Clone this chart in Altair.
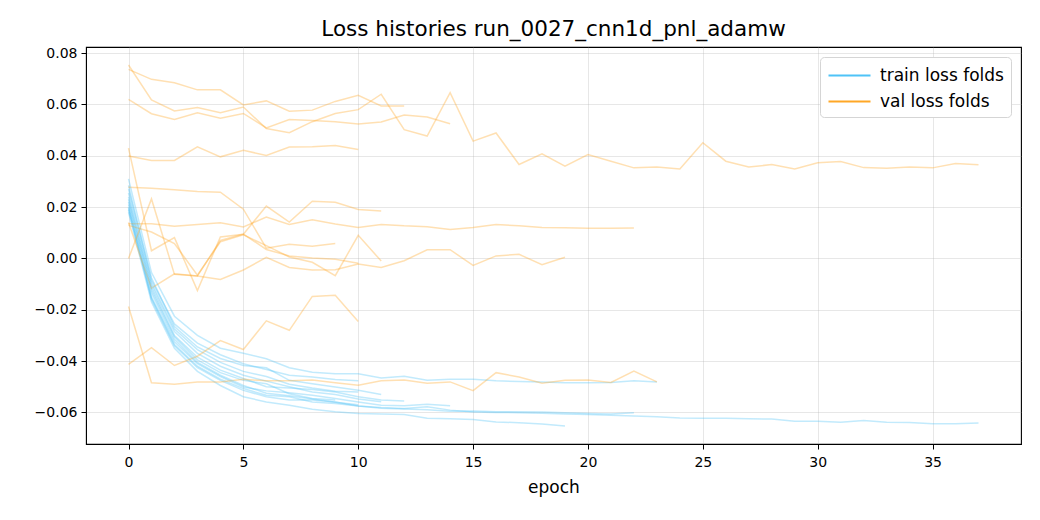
import altair as alt
import pandas as pd

# ---- data (one train / val history per fold) ----
FOLDS = ["A", "B", "C", "D", "E", "F", "G", "H", "I", "J", "K", "L"]

TRAIN_A = [0.0230, -0.0115, -0.0300, -0.0385, -0.0435, -0.0468, -0.0500, -0.0505, -0.0511, -0.0520, -0.0539, -0.0552, -0.0555]
TRAIN_B = [0.0195, -0.0155, -0.0335, -0.0420, -0.0470, -0.0507, -0.0533, -0.0539, -0.0559, -0.0565, -0.0575, -0.0581, -0.0585,
           -0.0578, -0.0591, -0.0598, -0.0600, -0.0601, -0.0603, -0.0606, -0.0608, -0.0611, -0.0614, -0.0617, -0.0622, -0.0623,
           -0.0623, -0.0625, -0.0626, -0.0634, -0.0634, -0.0638, -0.0631, -0.0638, -0.0639, -0.0644, -0.0644, -0.0641]
TRAIN_C = [0.0200, -0.0150, -0.0325, -0.0410, -0.0460, -0.0501, -0.0516, -0.0523, -0.0533, -0.0546, -0.0559, -0.0572, -0.0574, -0.0568, -0.0574]
TRAIN_D = [0.0285, -0.0085, -0.0255, -0.0330, -0.0375, -0.0410, -0.0433, -0.0455, -0.0462, -0.0472, -0.0477]
TRAIN_E = [0.0220, -0.0125, -0.0305, -0.0395, -0.0445, -0.0475, -0.0488, -0.0527, -0.0546, -0.0552]
TRAIN_F = [0.0270, -0.0075, -0.0265, -0.0345, -0.0390, -0.0417, -0.0426, -0.0475, -0.0488, -0.0501, -0.0514, -0.0530]
TRAIN_G = [0.0190, -0.0160, -0.0340, -0.0425, -0.0475, -0.0514, -0.0539, -0.0552, -0.0552, -0.0559, -0.0575, -0.0584, -0.0587,
           -0.0590, -0.0595, -0.0594, -0.0597, -0.0597, -0.0598, -0.0601, -0.0604, -0.0606, -0.0601]
TRAIN_H = [0.0180, -0.0170, -0.0350, -0.0440, -0.0495, -0.0539, -0.0559, -0.0572, -0.0588, -0.0597, -0.0604, -0.0606, -0.0608,
           -0.0623, -0.0625, -0.0628, -0.0637, -0.0640, -0.0645, -0.0653]
TRAIN_I = [0.0240, -0.0105, -0.0285, -0.0370, -0.0420, -0.0455, -0.0478, -0.0500, -0.0520, -0.0530, -0.0548, -0.0558]
TRAIN_J = [0.0255, -0.0095, -0.0275, -0.0355, -0.0405, -0.0440, -0.0460, -0.0490, -0.0505, -0.0517, -0.0520]
TRAIN_K = [0.0310, -0.0055, -0.0225, -0.0300, -0.0350, -0.0369, -0.0391, -0.0426, -0.0443, -0.0449, -0.0449, -0.0466, -0.0459,
           -0.0475, -0.0471, -0.0471, -0.0477, -0.0479, -0.0481, -0.0484, -0.0484, -0.0483, -0.0477, -0.0481]
TRAIN_L = [0.0210, -0.0135, -0.0315, -0.0405, -0.0455, -0.0495, -0.0525, -0.0535, -0.0548, -0.0560, -0.0570]

VAL_A = [0.0737, 0.0698, 0.0685, 0.0657, 0.0657, 0.0598, 0.0614, 0.0574, 0.0578, 0.0612, 0.0636, 0.0594, 0.0594]
VAL_B = [0.0754, 0.0618, 0.0575, 0.0588, 0.0568, 0.0590, 0.0506, 0.0490, 0.0533, 0.0565, 0.0580, 0.0640, 0.0502,
         0.0477, 0.0646, 0.0457, 0.0489, 0.0366, 0.0408, 0.0360, 0.0405, 0.0379, 0.0353, 0.0356, 0.0349, 0.0451,
         0.0379, 0.0356, 0.0366, 0.0349, 0.0373, 0.0378, 0.0354, 0.0352, 0.0356, 0.0353, 0.0370, 0.0365]
VAL_C = [0.0620, 0.0564, 0.0542, 0.0568, 0.0546, 0.0565, 0.0509, 0.0541, 0.0538, 0.0533, 0.0524, 0.0532, 0.0559, 0.0551, 0.0525]
VAL_D = [0.0399, 0.0382, 0.0382, 0.0435, 0.0396, 0.0422, 0.0401, 0.0434, 0.0435, 0.0440, 0.0425]
VAL_E = [0.0277, 0.0274, 0.0268, 0.0261, 0.0258, 0.0192, 0.0040, 0.0055, 0.0048, 0.0058]
VAL_F = [0.0430, 0.0030, 0.0081, -0.0125, 0.0084, 0.0094, 0.0204, 0.0142, 0.0223, 0.0219, 0.0191, 0.0185]
VAL_G = [0.0135, 0.0135, 0.0126, 0.0132, 0.0139, 0.0123, 0.0161, 0.0132, 0.0151, 0.0134, 0.0121, 0.0132, 0.0127,
         0.0124, 0.0113, 0.0121, 0.0132, 0.0127, 0.0121, 0.0120, 0.0118, 0.0118, 0.0119]
VAL_H = [0.0140, -0.0116, -0.0060, -0.0068, -0.0082, -0.0045, 0.0004, -0.0035, -0.0045, -0.0044, -0.0022, -0.0035, -0.0009,
         0.0034, 0.0034, -0.0027, 0.0010, 0.0016, -0.0024, 0.0005]
VAL_I = [0.0129, 0.0103, 0.0058, -0.0065, 0.0065, 0.0092, 0.0050, 0.0006, -0.0015, -0.0067, 0.0090, -0.0010]
VAL_J = [-0.0413, -0.0348, -0.0417, -0.0381, -0.0320, -0.0355, -0.0243, -0.0280, -0.0148, -0.0143, -0.0246]
VAL_K = [-0.0187, -0.0484, -0.0490, -0.0481, -0.0481, -0.0471, -0.0477, -0.0477, -0.0474, -0.0484, -0.0494, -0.0477,
         -0.0474, -0.0486, -0.0481, -0.0515, -0.0445, -0.0462, -0.0486, -0.0475, -0.0474, -0.0483, -0.0439, -0.0481]
VAL_L = [0.0000, 0.0232, -0.0062, -0.0068, 0.0070, 0.0095, 0.0035, 0.0010, 0.0002, -0.0003, -0.0019]

TRAIN = [TRAIN_A, TRAIN_B, TRAIN_C, TRAIN_D, TRAIN_E, TRAIN_F, TRAIN_G, TRAIN_H, TRAIN_I, TRAIN_J, TRAIN_K, TRAIN_L]
VAL = [VAL_A, VAL_B, VAL_C, VAL_D, VAL_E, VAL_F, VAL_G, VAL_H, VAL_I, VAL_J, VAL_K, VAL_L]

SERIES = ["train loss folds", "val loss folds"]
COLORS = ["#4FC3F7", "#FFA726"]
X_TICKS = [0, 5, 10, 15, 20, 25, 30, 35]
Y_TICKS = [-0.06, -0.04, -0.02, 0.0, 0.02, 0.04, 0.06, 0.08]
TITLE = "Loss histories run_0027_cnn1d_pnl_adamw"

rows = []
for fold, tr, va in zip(FOLDS, TRAIN, VAL):
    for e, v in enumerate(tr):
        rows.append({"fold": fold, "series": SERIES[0], "epoch": e, "loss": v})
    for e, v in enumerate(va):
        rows.append({"fold": fold, "series": SERIES[1], "epoch": e, "loss": v})
df = pd.DataFrame(rows)
df["key"] = df["series"] + "_" + df["fold"]

FONT = "DejaVu Sans"

chart = (
    alt.Chart(df)
    .mark_line(strokeWidth=1.5, opacity=0.35, clip=True)
    .encode(
        x=alt.X(
            "epoch:Q",
            scale=alt.Scale(domain=[-1.85, 38.85], nice=False, zero=False),
            axis=alt.Axis(values=X_TICKS, title="epoch", format="d", labelPadding=6, titlePadding=10),
        ),
        y=alt.Y(
            "loss:Q",
            scale=alt.Scale(domain=[-0.0723, 0.0824], nice=False, zero=False),
            axis=alt.Axis(values=Y_TICKS, format=".2f", title=None),
        ),
        color=alt.Color(
            "series:N",
            scale=alt.Scale(domain=SERIES, range=COLORS),
            legend=alt.Legend(
                title=None,
                orient="top-right",
                offset=10,
                symbolType="M-2.1,0H2.1",
                symbolStrokeWidth=2.2,
                symbolSize=400,
                symbolOffset=11,
                symbolOpacity=1,
                labelFont=FONT,
                labelFontSize=17,
                labelColor="black",
                labelOffset=19,
                rowPadding=6,
                padding=7,
                fillColor="white",
                strokeColor="#d5d5d5",
                cornerRadius=4,
            ),
        ),
        detail="key:N",
        order="epoch:Q",
    )
    .properties(
        width=935,
        height=397,
        title=alt.Title(TITLE, font=FONT, fontSize=21.5, fontWeight="normal", color="black",
                        anchor="middle", offset=6),
        autosize=alt.AutoSizeParams(type="none"),
        padding={"left": 78, "top": 39, "right": 10, "bottom": 60},
    )
    .configure_view(stroke="black", strokeWidth=1.1)
    .configure_axis(
        labelFont=FONT,
        labelFontSize=14,
        labelColor="black",
        titleFont=FONT,
        titleFontSize=17,
        titleFontWeight="normal",
        titleColor="black",
        domainColor="black",
        tickColor="black",
        tickSize=5,
        labelPadding=4,
        titlePadding=5,
        gridColor="#b0b0b0",
        gridOpacity=0.35,
        gridWidth=0.9,
    )
)

chart.save("out.html", embed_options={"renderer": "svg", "actions": False})
